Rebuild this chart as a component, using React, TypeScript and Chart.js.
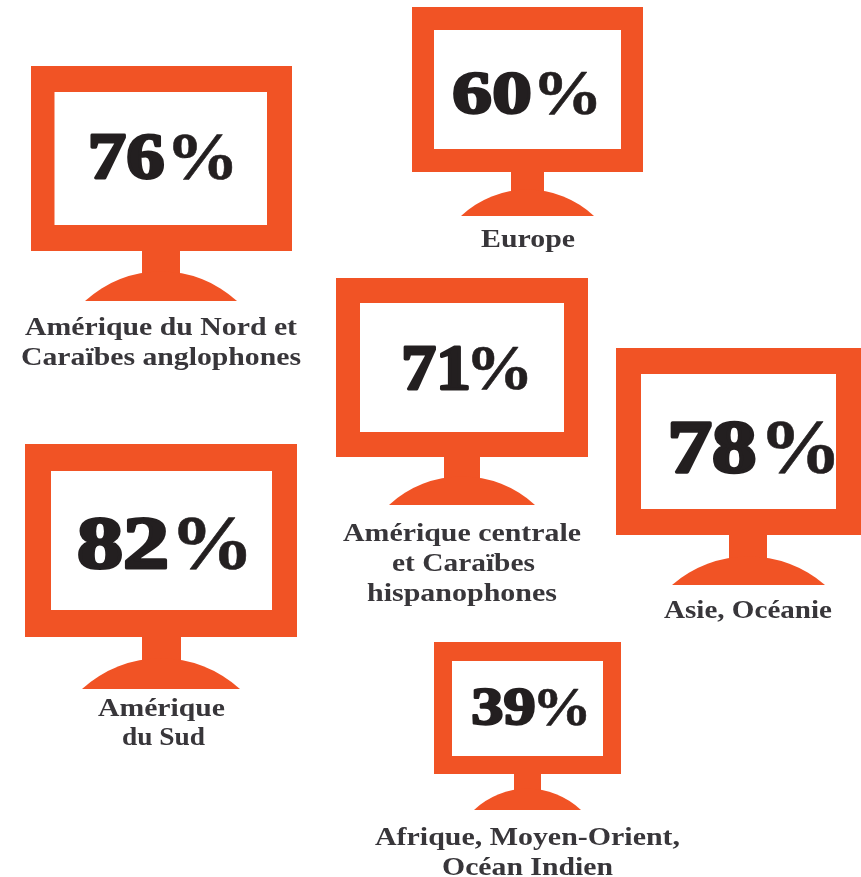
import React, { useEffect, useRef } from "react";
import { Chart, registerables } from "chart.js";

Chart.register(...registerables);

const regions = ["Amérique du Nord et Caraïbes anglophones", "Europe", "Amérique centrale et Caraïbes hispanophones", "Asie, Océanie", "Amérique du Sud", "Afrique, Moyen-Orient, Océan Indien"];
const percentages = [76, 60, 71, 78, 82, 39];
const captionLines = [
  ["Amérique du Nord et", "Caraïbes anglophones"],
  ["Europe"],
  ["Amérique centrale", "et Caraïbes", "hispanophones"],
  ["Asie, Océanie"],
  ["Amérique", "du Sud"],
  ["Afrique, Moyen-Orient,", "Océan Indien"],
];

// Layout table, in the chart's x/y scale units.
// d: digits box [x0, x1], p: percent box [x0, x1], v: number box [top, baseline]
const layoutTable = [
  { o: [31, 66, 292, 251], i: [54.5, 92, 267, 225], n: [142, 180], b: [85, 237, 301], a: 273, d: [90, 165], p: [173, 233], v: [135, 180], c: [[25, 297, 335], [21, 301, 365]] },
  { o: [412, 7, 643, 172], i: [434, 30, 621, 149], n: [511, 544], b: [461, 594, 216], a: 191, d: [453, 531], p: [539, 597], v: [72, 115], c: [[481, 575, 247]] },
  { o: [336, 278, 588, 457], i: [360, 303, 564, 432], n: [444, 480], b: [389, 535, 505], a: 478, d: [403, 469], p: [472, 528], v: [347, 390], c: [[343, 581, 541], [392, 535, 571], [367, 557, 601]] },
  { o: [616, 348, 861, 535], i: [641, 374, 836, 509], n: [729, 767], b: [672, 825, 585], a: 558, d: [670, 757], p: [767, 835], v: [422, 474], c: [[664, 832, 618]] },
  { o: [25, 444, 297, 637], i: [51, 471, 272, 610], n: [142, 181], b: [82, 240, 689], a: 660, d: [78, 168], p: [178, 247], v: [518, 570], c: [[98, 225, 716], [122, 205, 745]] },
  { o: [434, 642, 621, 774], i: [452, 661, 603, 756], n: [514, 541], b: [474, 581, 810], a: 790, d: [472, 535], p: [538, 587], v: [689, 726], c: [[375, 680, 845], [442, 613, 875]] },
];

const ORANGE = "#f15325";
const INK = "#231f20";
const CAPTION = "#38363a";

function fitted(ctx: CanvasRenderingContext2D, text: string, x0: number, x1: number, y: number, size: number, color: string) {
  ctx.save();
  ctx.font = `bold ${size}px "Liberation Serif"`;
  ctx.textAlign = "left";
  ctx.textBaseline = "alphabetic";
  ctx.fillStyle = color;
  const w = ctx.measureText(text).width;
  ctx.translate(x0, y);
  ctx.scale((x1 - x0) / w, 1);
  ctx.fillText(text, 0, 0);
  ctx.restore();
}

// Fits the ink of a text into a box, both ways.
function boxed(ctx: CanvasRenderingContext2D, text: string, font: string, x0: number, x1: number, top: number, bottom: number, stroke: number, color: string) {
  ctx.save();
  ctx.font = font;
  ctx.textAlign = "left";
  ctx.textBaseline = "alphabetic";
  ctx.fillStyle = color;
  ctx.strokeStyle = color;
  ctx.lineJoin = "round";
  const m = ctx.measureText(text);
  const inkW = m.actualBoundingBoxLeft + m.actualBoundingBoxRight;
  const inkH = m.actualBoundingBoxAscent + m.actualBoundingBoxDescent;
  const sx = (x1 - x0 - stroke) / inkW;
  const sy = (bottom - top - stroke * 0.6) / inkH;
  ctx.translate(x0 + stroke / 2, top + stroke * 0.3);
  ctx.scale(sx, sy);
  ctx.translate(m.actualBoundingBoxLeft, m.actualBoundingBoxAscent);
  ctx.fillText(text, 0, 0);
  if (stroke > 0) {
    ctx.lineWidth = stroke / sx;
    ctx.strokeText(text, 0, 0);
  }
  ctx.restore();
}

const monitorsPlugin = {
  id: "monitors",
  afterDatasetsDraw(chart: any) {
    const { ctx, scales } = chart;
    const X = (v: number) => scales.x.getPixelForValue(v);
    const Y = (v: number) => scales.y.getPixelForValue(v);
    percentages.forEach((value, idx) => {
      const l = layoutTable[idx];
      ctx.save();
      ctx.fillStyle = ORANGE;
      ctx.fillRect(X(l.o[0]), Y(l.o[1]), X(l.o[2]) - X(l.o[0]), Y(l.o[3]) - Y(l.o[1]));
      ctx.fillStyle = "#ffffff";
      ctx.fillRect(X(l.i[0]), Y(l.i[1]), X(l.i[2]) - X(l.i[0]), Y(l.i[3]) - Y(l.i[1]));
      ctx.fillStyle = ORANGE;
      ctx.fillRect(X(l.n[0]), Y(l.o[3]), X(l.n[1]) - X(l.n[0]), Y(l.a + 4) - Y(l.o[3]));
      // dome: circle through base ends and the points where it meets the neck
      const cx = X((l.b[0] + l.b[1]) / 2);
      const w = (X(l.b[1]) - X(l.b[0])) / 2;
      const nw = (X(l.n[1]) - X(l.n[0])) / 2;
      const bottom = Y(l.b[2]);
      const rise = bottom - Y(l.a);
      const k = (w * w - nw * nw - rise * rise) / (2 * rise);
      const R = Math.sqrt(w * w + k * k);
      const start = Math.atan2(-k, -w);
      const end = Math.atan2(-k, w);
      ctx.beginPath();
      ctx.arc(cx, bottom + k, R, start, end);
      ctx.closePath();
      ctx.fill();
      ctx.restore();
      const weight = (l.v[1] - l.v[0]) * 0.075;
      boxed(ctx, String(value), 'bold 60px "Liberation Serif"', X(l.d[0]), X(l.d[1]), Y(l.v[0]), Y(l.v[1]), weight, INK);
      boxed(ctx, "%", 'bold 60px "Liberation Serif"', X(l.p[0]), X(l.p[1]), Y(l.v[0]), Y(l.v[1]), 0.6, INK);
      captionLines[idx].forEach((line, j) => {
        const c = l.c[j];
        fitted(ctx, line, X(c[0]), X(c[1]), Y(c[2]), 26, CAPTION);
      });
    });
  },
};

export default function App() {
  const ref = useRef<HTMLCanvasElement>(null);
  useEffect(() => {
    document.body.style.margin = "0";
    document.body.style.background = "#ffffff";
    const chart = new Chart(ref.current as HTMLCanvasElement, {
      type: "scatter",
      data: {
        labels: regions,
        datasets: [
          {
            label: "Part (%)",
            data: percentages.map((_, i) => ({
              x: (layoutTable[i].o[0] + layoutTable[i].o[2]) / 2,
              y: (layoutTable[i].o[1] + layoutTable[i].o[3]) / 2,
            })),
            pointRadius: 0,
          },
        ],
      },
      options: {
        animation: false,
        responsive: false,
        layout: { padding: 0 },
        plugins: { legend: { display: false }, tooltip: { enabled: false }, title: { display: false } },
        scales: {
          x: { type: "linear", display: false, min: 0, max: 861 },
          y: { type: "linear", display: false, min: 0, max: 877, reverse: true },
        },
      },
      plugins: [monitorsPlugin],
    });
    return () => chart.destroy();
  }, []);
  return <canvas ref={ref} width={861} height={877} style={{ display: "block" }} />;
}
